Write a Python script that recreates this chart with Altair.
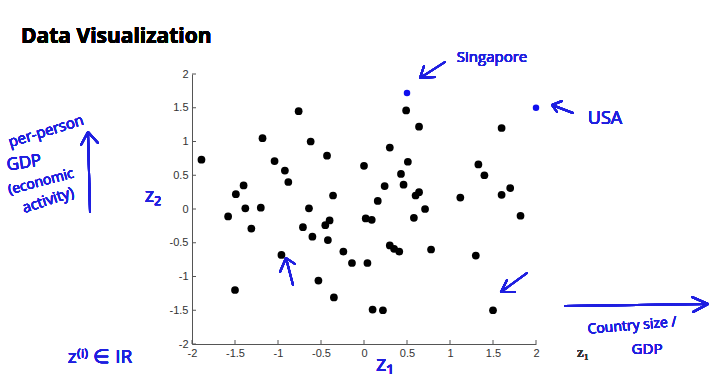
import altair as alt
import pandas as pd

# ---- data ----
black_x = [-1.89, -0.76, -1.18, -0.62, -0.43, 0.00, -1.04, -0.92, -0.88, -1.40,
           -1.49, -0.36, -1.38, -1.20, -0.64, -1.58, -0.40, 0.02, -1.31, -0.71,
           -0.45, -0.60, -0.42, -0.96, -0.24, -0.14, 0.04, -0.53, -1.50, -0.35,
           0.49, 0.64, 1.60, 0.30, 0.51, 1.33, 1.40, 0.43, 0.46, 0.24,
           0.60, 0.64, 0.16, 1.12, 1.60, 1.70, 0.71, 0.09, 0.58, 1.82,
           0.30, 0.35, 0.41, 0.78, 1.30, 0.10, 0.22, 1.50]
black_y = [0.73, 1.45, 1.05, 1.00, 0.79, 0.64, 0.71, 0.57, 0.40, 0.35,
           0.22, 0.20, 0.01, 0.02, 0.01, -0.11, -0.17, -0.14, -0.29, -0.27,
           -0.24, -0.41, -0.46, -0.68, -0.63, -0.80, -0.80, -1.06, -1.20, -1.31,
           1.46, 1.22, 1.20, 0.91, 0.70, 0.66, 0.50, 0.52, 0.36, 0.34,
           0.20, 0.25, 0.12, 0.17, 0.21, 0.31, 0.00, -0.16, -0.13, -0.10,
           -0.54, -0.59, -0.63, -0.60, -0.69, -1.49, -1.50, -1.50]
blue_x = [0.5, 2.0]
blue_y = [1.72, 1.5]
blue_names = ["Singapore", "USA"]
tick_values = [-2, -1.5, -1, -0.5, 0, 0.5, 1, 1.5, 2]

# ---- layout (page pixels) ----
OX, OY = 192, 74
W, H = 344, 270
BLUE = "#1f1fe0"

df_black = pd.DataFrame({"x": black_x, "y": black_y})
df_blue = pd.DataFrame({"x": blue_x, "y": blue_y, "name": blue_names})
df_ticks = pd.DataFrame({"t": tick_values})

xs = alt.Scale(domain=[-2, 2], nice=False, zero=False)
ys = alt.Scale(domain=[-2, 2], nice=False, zero=False)

axis_common = dict(values=tick_values, labelExpr="'' + datum.value", ticks=False,
                   grid=False, domainColor="#555555", domainWidth=1,
                   labelColor="#333333", labelFont="Liberation Sans", labelFontSize=11,
                   labelFlush=False, labelOverlap=False, title=None)
x_axis = alt.Axis(labelPadding=3, **axis_common)
y_axis = alt.Axis(labelPadding=4, **axis_common)

pts = alt.Chart(df_black).mark_circle(size=60, color="black", opacity=1).encode(
    x=alt.X("x:Q", scale=xs, axis=x_axis),
    y=alt.Y("y:Q", scale=ys, axis=y_axis),
)
blue_pts = alt.Chart(df_blue).mark_circle(size=42, color="#1010ee", opacity=1).encode(
    x=alt.X("x:Q", scale=xs, axis=x_axis),
    y=alt.Y("y:Q", scale=ys, axis=y_axis),
)
# inward tick marks (MATLAB style)
xticks = alt.Chart(df_ticks).mark_rule(color="#555555").encode(
    x=alt.X("t:Q", scale=xs, axis=x_axis), y=alt.value(H), y2=alt.value(H - 4))
yticks = alt.Chart(df_ticks).mark_rule(color="#555555").encode(
    y=alt.Y("t:Q", scale=ys, axis=y_axis), x=alt.value(0), x2=alt.value(4))

layers = [pts, blue_pts, xticks, yticks]

# title
layers.append(alt.Chart(df_ticks).mark_text(
    text="Data Visualization", font="Open Sans", fontWeight="bold", fontSize=21,
    align="left", baseline="alphabetic", color="black").encode(
    x=alt.value(21 - OX), y=alt.value(43 - OY)))

# MATLAB-like x label
layers.append(alt.Chart(df_ticks).mark_text(
    text="z₁", font="Liberation Serif", fontSize=15, color="#333333",
    align="center", baseline="middle").encode(
    x=alt.value(583 - OX), y=alt.value(352 - OY)))

# handwritten annotations: (text, x, y, size, angle)
notes = [
    ("per-person", 46, 131, 15, 343),
    ("GDP", 24, 163, 17, 352),
    ("(economic", 41, 182, 14, 345),
    ("activity)", 48, 200, 15, 342),
    ("z₂", 153, 196, 20, 0),
    ("Singapore", 492, 57, 15, 0),
    ("USA", 605, 119, 18, 0),
    ("Country size /", 632, 326, 14, 355),
    ("GDP", 647, 349, 15, 0),
    ("z⁽ⁱ⁾ ∈ IR", 100, 357, 19, 0),
    ("z₁", 385, 364, 22, 0),
]
for txt, tx, ty, sz, ang in notes:
    layers.append(alt.Chart(df_ticks).mark_text(
        text=txt, font="Open Sans", fontSize=sz, fontWeight=400, color=BLUE,
        angle=ang, align="center", baseline="middle").encode(
        x=alt.value(tx - OX), y=alt.value(ty - OY)))

# hand-drawn arrows: segments (x1, y1, x2, y2)
segments = [
    # y-axis arrow
    (90, 212, 88, 132), (88, 132, 81, 145), (88, 132, 98, 143),
    # x-axis arrow
    (565, 306, 708, 304), (708, 304, 692, 297), (708, 304, 693, 312),
    # Singapore arrow
    (445, 62, 420, 78), (420, 78, 424, 66), (420, 78, 435, 77),
    # USA arrow
    (573, 113, 552, 105), (552, 105, 562, 101), (552, 105, 557, 112),
    # arrow near (-0.9, -1)
    (293, 285, 286, 258), (286, 258, 280, 272), (286, 258, 295, 264),
    # arrow near (1.6, -1.2)
    (527, 273, 501, 292), (501, 292, 507, 280), (501, 292, 515, 292),
]
for x1, y1, x2, y2 in segments:
    layers.append(alt.Chart(df_ticks).mark_rule(
        color=BLUE, strokeWidth=2, strokeCap="round").encode(
        x=alt.value(x1 - OX), y=alt.value(y1 - OY),
        x2=alt.value(x2 - OX), y2=alt.value(y2 - OY)))

chart = alt.layer(*layers).properties(
    width=W, height=H,
    autosize=alt.AutoSizeParams(type="none"),
    padding={"left": OX, "top": OY, "right": 716 - OX - W, "bottom": 389 - OY - H},
    background="white",
).configure_view(stroke=None)

chart.save("out.html", embed_options={"renderer": "svg", "actions": False})
